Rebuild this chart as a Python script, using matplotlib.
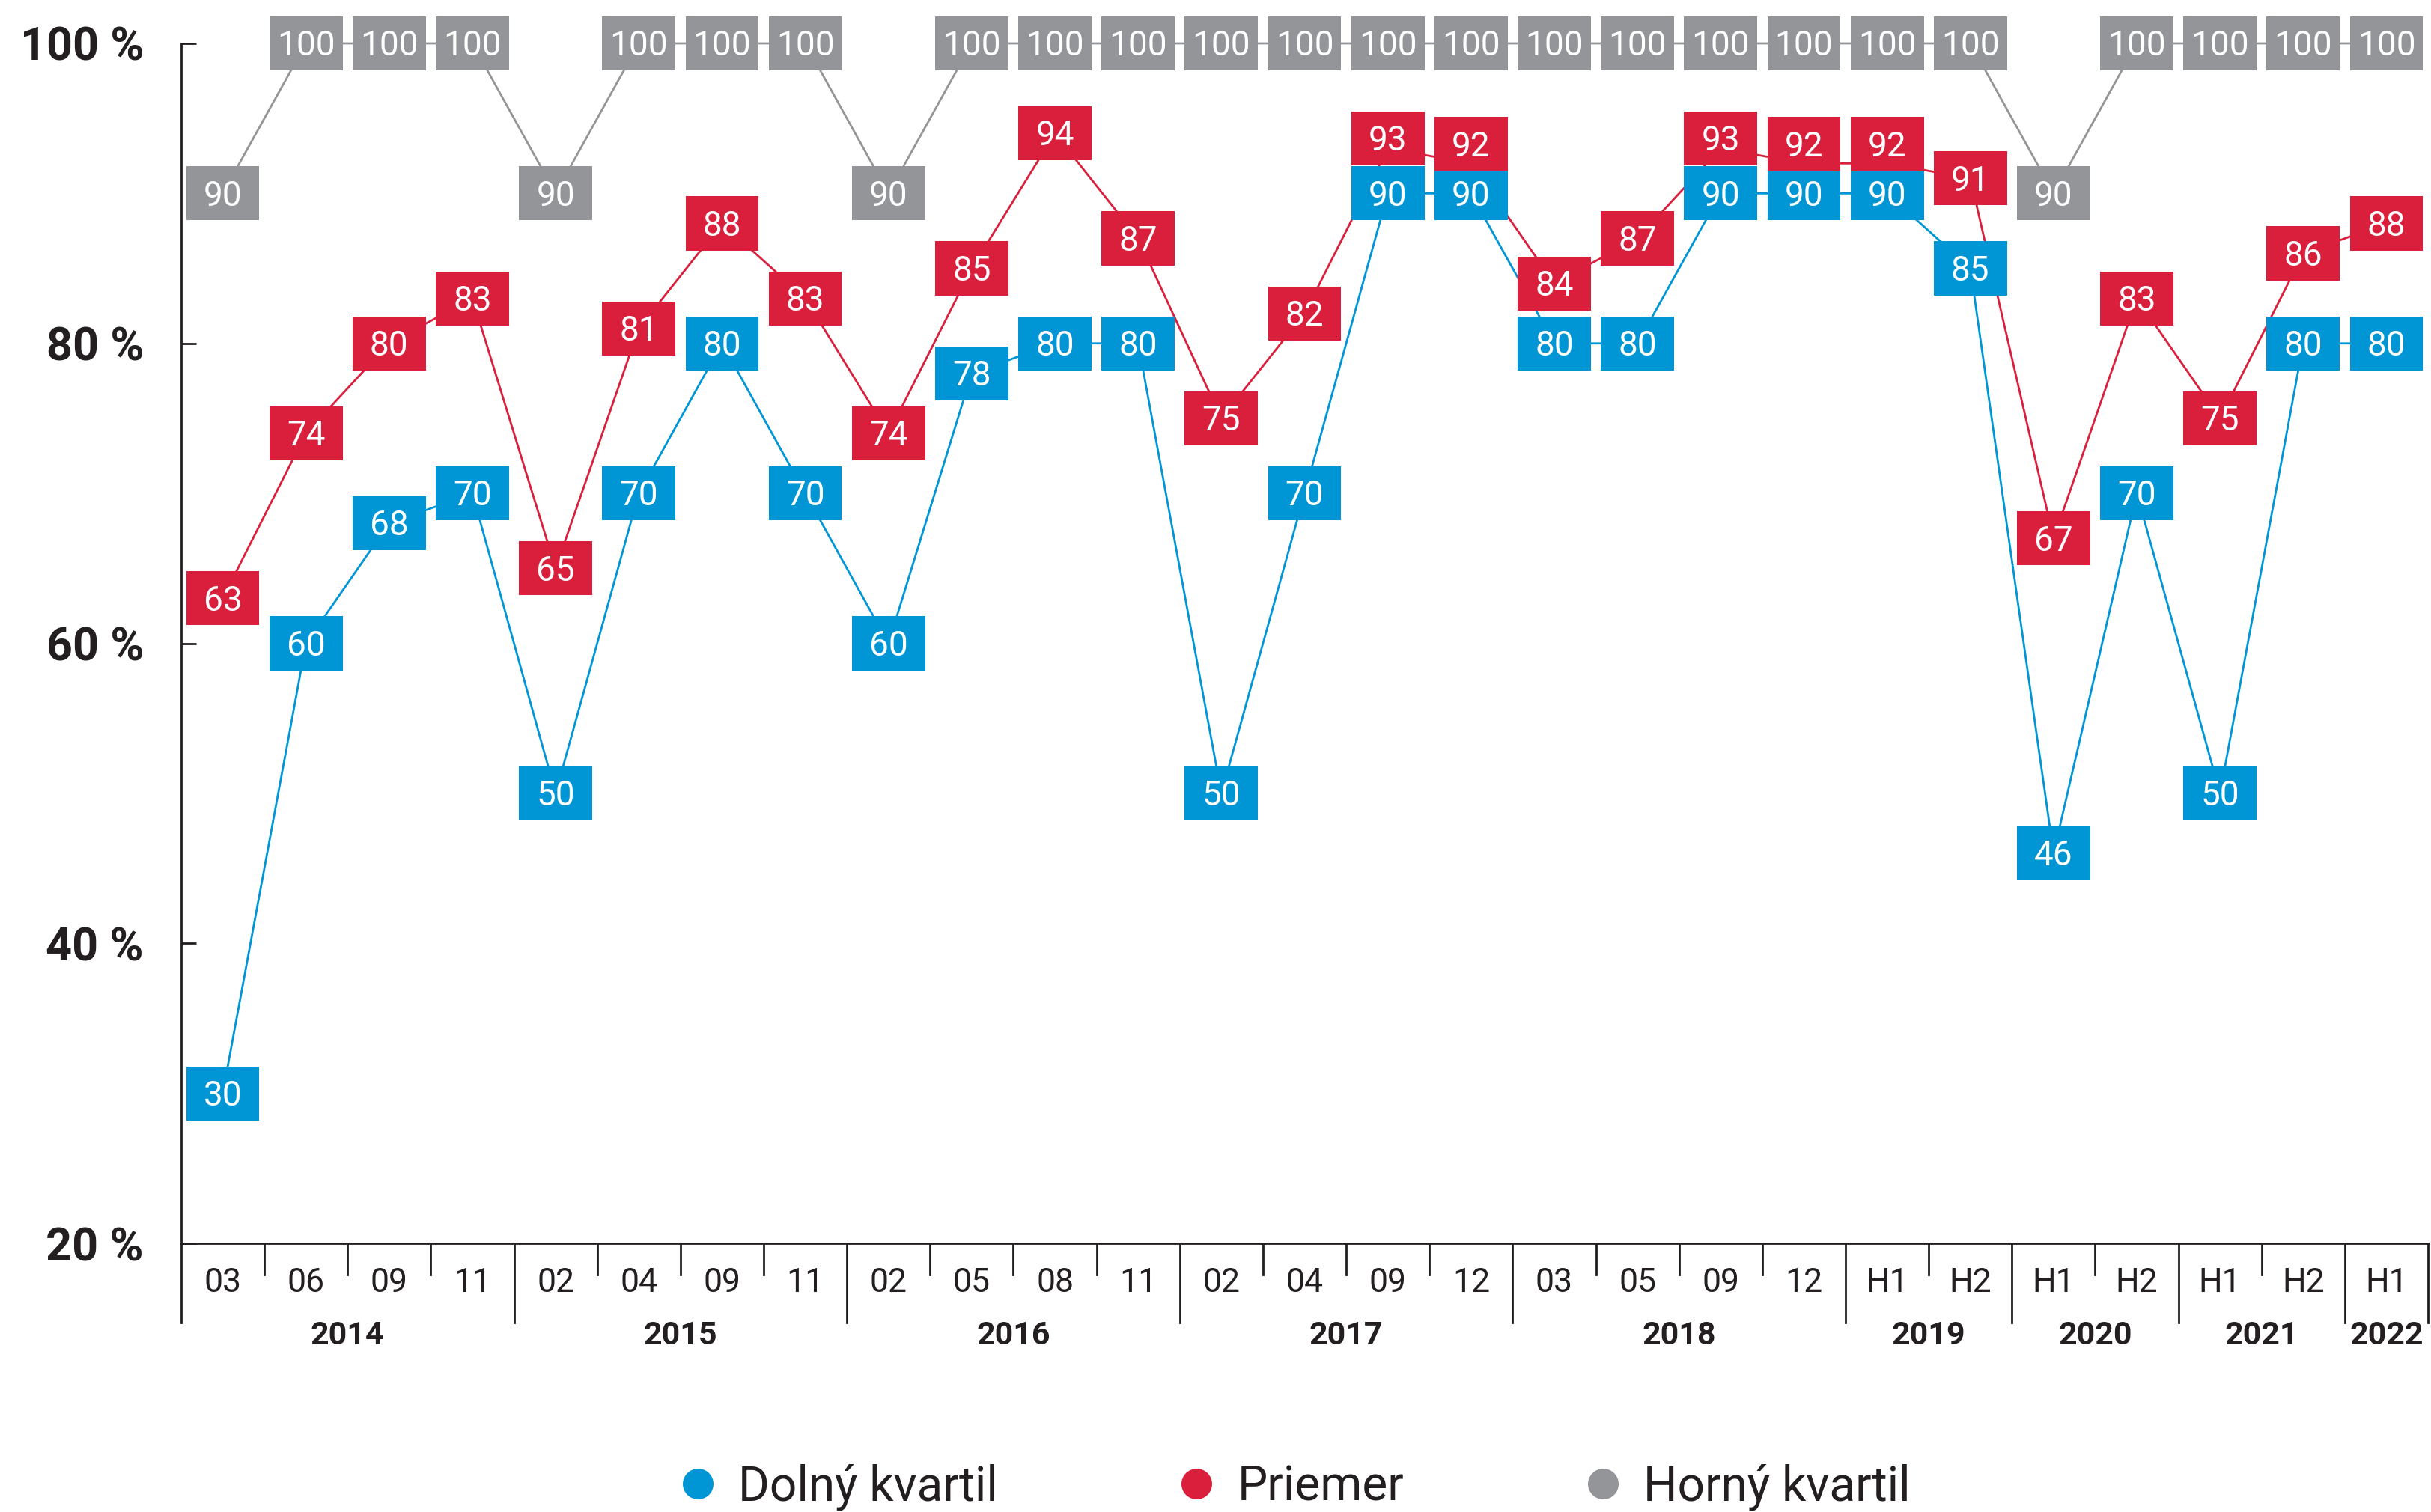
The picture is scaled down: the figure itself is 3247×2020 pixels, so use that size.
import numpy as np
import matplotlib
matplotlib.use('Agg')
import matplotlib.pyplot as plt
from matplotlib.patches import Rectangle
from matplotlib.lines import Line2D
import matplotlib.transforms as mtransforms

plt.rcParams['font.family'] = ['Roboto', 'DejaVu Sans']

# data
periods = ['03', '06', '09', '11', '02', '04', '09', '11', '02', '05', '08', '11',
           '02', '04', '09', '12', '03', '05', '09', '12', 'H1', 'H2', 'H1', 'H2',
           'H1', 'H2', 'H1']
years = ['2014', '2015', '2016', '2017', '2018', '2019', '2020', '2021', '2022']
year_counts = [4, 4, 4, 4, 4, 2, 2, 2, 1]

dolny = [30, 60, 68, 70, 50, 70, 80, 70, 60, 78, 80, 80, 50, 70, 90, 90, 80, 80,
         90, 90, 90, 85, 46, 70, 50, 80, 80]
priemer = [63, 74, 80, 83, 65, 81, 88, 83, 74, 85, 94, 87, 75, 82, 93, 92, 84, 87,
           93, 92, 92, 91, 67, 83, 75, 86, 88]
horny = [90, 100, 100, 100, 90, 100, 100, 100, 90, 100, 100, 100, 100, 100, 100, 100,
         100, 100, 100, 100, 100, 100, 90, 100, 100, 100, 100]

BLUE = '#0096D6'
RED = '#DA1F3D'
GRAY = '#939598'
DARK = '#231F20'

fig = plt.figure(figsize=(32.47, 20.20), dpi=100)
ax = fig.add_axes([0.0745, 0.1777, 0.9243, 0.7936])

x = np.arange(len(periods))
ax.set_xlim(-0.5, len(periods) - 0.5)
ax.set_ylim(20, 100)

BOX_W = 0.88
BOX_H = 3.6
fs_box = 33

# red boxes are nudged up where they would sit on top of the blue ones
red_pos = []
for r, b in zip(priemer, dolny):
    d = r - b
    red_pos.append(r + 0.65 * (4.0 - d) if d < 4.0 else r)

series = [
    (horny, horny, GRAY, 2),
    (dolny, dolny, BLUE, 3),
    (priemer, red_pos, RED, 4),
]

for vals, pos, col, z in series:
    ax.plot(x, vals, color=col, lw=2, zorder=1, clip_on=False)

for vals, pos, col, z in series:
    for xi, v, p in zip(x, vals, pos):
        ax.add_patch(Rectangle((xi - BOX_W / 2, p - BOX_H / 2), BOX_W, BOX_H,
                               facecolor=col, edgecolor='none', zorder=z, clip_on=False))
        tr = mtransforms.offset_copy(ax.transData, fig=fig, y=-0.355 * fs_box, units='points')
        ax.text(xi, p, str(v), transform=tr, ha='center', va='baseline',
                color='white', fontsize=fs_box, zorder=z, clip_on=False)

# axes styling
for s in ['top', 'right']:
    ax.spines[s].set_visible(False)
for s in ['left', 'bottom']:
    ax.spines[s].set_color(DARK)
    ax.spines[s].set_linewidth(2)

yt = [20, 40, 60, 80, 100]
ax.set_yticks(yt)
ax.set_yticklabels([f'{v} %' for v in yt], fontsize=44, fontweight='bold', color=DARK)
ax.tick_params(axis='y', direction='in', length=14.5, width=2, color=DARK, pad=36)
ax.set_xticks([])

# category labels and separators under the axis
blend = mtransforms.blended_transform_factory(ax.transData, ax.transAxes)
short = 0.0262
long_ = 0.0661
for xi, lab in zip(x, periods):
    ax.text(xi, -0.033, lab, transform=blend, ha='center', va='center',
            fontsize=32, color=DARK)

bounds = np.concatenate([[0], np.cumsum(year_counts)])
for i in range(len(years)):
    start, end = bounds[i], bounds[i + 1]
    for k in range(start + 1, end):
        ax.plot([k - 0.5, k - 0.5], [0, -short], transform=blend, color=DARK,
                lw=2, clip_on=False)
    ax.text((start + end - 1) / 2, -0.077, years[i], transform=blend, ha='center',
            va='center', fontsize=31, fontweight='bold', color=DARK)
for b in bounds:
    ax.plot([b - 0.5, b - 0.5], [0, -long_], transform=blend, color=DARK,
            lw=2, clip_on=False)

# legend
handles = [Line2D([], [], marker='o', ls='none', markersize=29.5, markerfacecolor=c,
                  markeredgecolor='none') for c in (BLUE, RED, GRAY)]
leg = fig.legend(handles, ['Dolný kvartil', 'Priemer', 'Horný kvartil'],
                 loc='center', bbox_to_anchor=(0.533, 0.0165), ncol=3, frameon=False,
                 fontsize=46, handlelength=0.7, handletextpad=0.5, columnspacing=3.8)
for t in leg.get_texts():
    t.set_color(DARK)

fig.savefig('out.png', dpi=100, facecolor='white')
